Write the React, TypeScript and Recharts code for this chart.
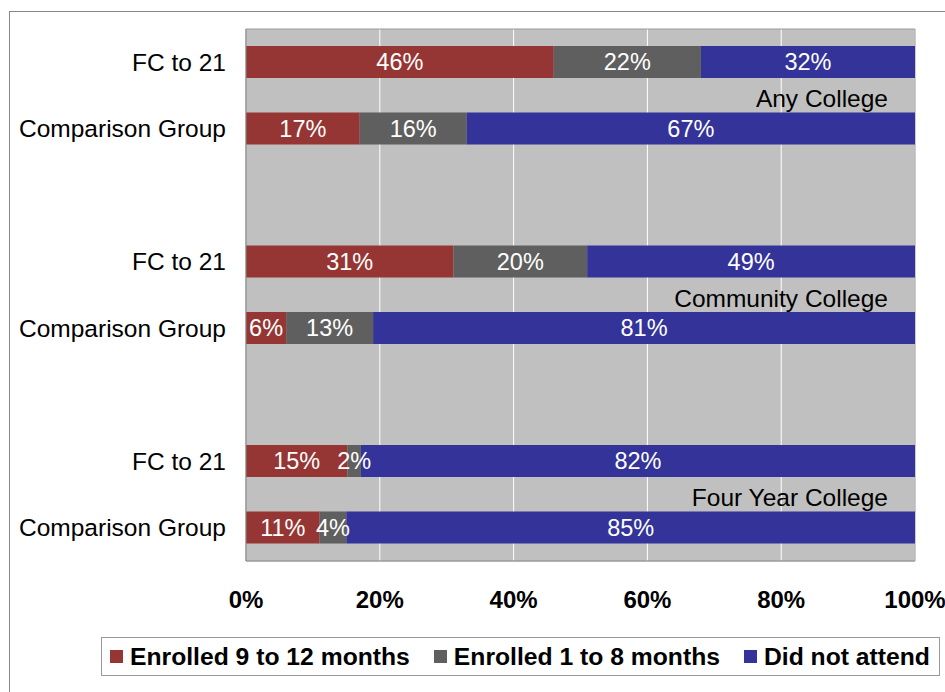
import { BarChart, Bar, XAxis, YAxis, CartesianGrid, Legend, LabelList, ReferenceArea } from "recharts";

const categories = ["FC to 21", "Comparison Group", "", "FC to 21", "Comparison Group", "", "FC to 21", "Comparison Group"];
const groupLabels = ["Any College", "", "", "Community College", "", "", "Four Year College", ""];
const enrolled9to12 = [46, 17, null, 31, 6, null, 15, 11];
const enrolled1to8 = [22, 16, null, 20, 13, null, 2, 4];
const didNotAttend = [32, 67, null, 49, 81, null, 82, 85];
const seriesNames = ["Enrolled 9 to 12 months", "Enrolled 1 to 8 months", "Did not attend"];
const xTicks = [0, 0.2, 0.4, 0.6, 0.8, 1];

const data = categories.map((name, i) => ({
  name,
  group: groupLabels[i],
  e912: enrolled9to12[i],
  e18: enrolled1to8[i],
  dna: didNotAttend[i],
}));

const FONT = "'Liberation Sans', Arial, sans-serif";

const pctLabel = (v: any) => (v == null ? "" : `${v}%`);

const GroupLabel = (props: any) => {
  const { x, y, width, height, value } = props;
  if (!value) return null;
  return (
    <text x={x + width - 27} y={y + height + 29} textAnchor="end" fontSize={24.5} fontFamily={FONT} fill="#000">
      {value}
    </text>
  );
};

const renderLegend = (props: any) => {
  const items = [...props.payload].sort((a: any, b: any) => seriesNames.indexOf(a.value) - seriesNames.indexOf(b.value));
  return (
    <div
      style={{
        width: "100%",
        height: "100%",
        boxSizing: "border-box",
        border: "1px solid #999",
        background: "#fff",
        display: "flex",
        alignItems: "center",
        paddingLeft: 8,
        fontFamily: FONT,
      }}
    >
      {items.map((p: any, i: number) => (
        <div key={i} style={{ display: "flex", alignItems: "center", marginLeft: i === 0 ? 0 : 24 }}>
          <span style={{ width: 13, height: 13, background: p.color, marginRight: 7, display: "inline-block" }} />
          <span style={{ fontWeight: "bold", fontSize: 24.7, color: "#000", whiteSpace: "nowrap" }}>{p.value}</span>
        </div>
      ))}
    </div>
  );
};

export default function App() {
  return (
    <div style={{ position: "absolute", left: 0, top: 0, width: 945, height: 692, overflow: "hidden", background: "#fff" }}>
      <div style={{ position: "absolute", left: 9, top: 11, width: 960, height: 720, border: "1px solid #888" }} />
      <div style={{ position: "absolute", left: 0, top: 0 }}>
        <BarChart
          width={945}
          height={692}
          data={data}
          layout="vertical"
          stackOffset="expand"
          barSize={32}
          margin={{ top: 29, right: 30, bottom: 71, left: 0 }}
        >
          <CartesianGrid horizontal={false} stroke="#fff" fill="#c0c0c0" />
          <ReferenceArea x1={0} x2={1} fill="none" stroke="#9a9a9a" ifOverflow="visible" />
          <XAxis
            type="number"
            domain={[0, 1]}
            ticks={xTicks}
            tickFormatter={(v: number) => `${Math.round(v * 100)}%`}
            tickLine={false}
            tickSize={0}
            tickMargin={30}
            axisLine={{ stroke: "#999" }}
            height={60}
            tick={{ fontSize: 24, fontWeight: "bold", fill: "#000", fontFamily: FONT }}
            interval={0}
          />
          <YAxis
            type="category"
            dataKey="name"
            width={246}
            tickLine={false}
            tickSize={0}
            tickMargin={20}
            axisLine={{ stroke: "#888" }}
            interval={0}
            tick={{ fontSize: 24.5, fill: "#000", fontFamily: FONT }}
          />
          <Legend
            layout="horizontal"
            verticalAlign="middle"
            align="center"
            content={renderLegend}
            wrapperStyle={{ left: 101, top: 637, width: 839, height: 39, right: "auto", bottom: "auto" }}
          />
          <Bar dataKey="e912" name={seriesNames[0]} stackId="a" fill="#963634" isAnimationActive={false}>
            <LabelList dataKey="e912" position="center" formatter={pctLabel} fill="#fff" fontSize={23.5} fontFamily={FONT} />
          </Bar>
          <Bar dataKey="e18" name={seriesNames[1]} stackId="a" fill="#5f5f5f" isAnimationActive={false}>
            <LabelList dataKey="e18" position="center" formatter={pctLabel} fill="#fff" fontSize={23.5} fontFamily={FONT} />
          </Bar>
          <Bar dataKey="dna" name={seriesNames[2]} stackId="a" fill="#333399" isAnimationActive={false}>
            <LabelList dataKey="dna" position="center" formatter={pctLabel} fill="#fff" fontSize={23.5} fontFamily={FONT} />
            <LabelList dataKey="group" content={GroupLabel} />
          </Bar>
        </BarChart>
      </div>
    </div>
  );
}
